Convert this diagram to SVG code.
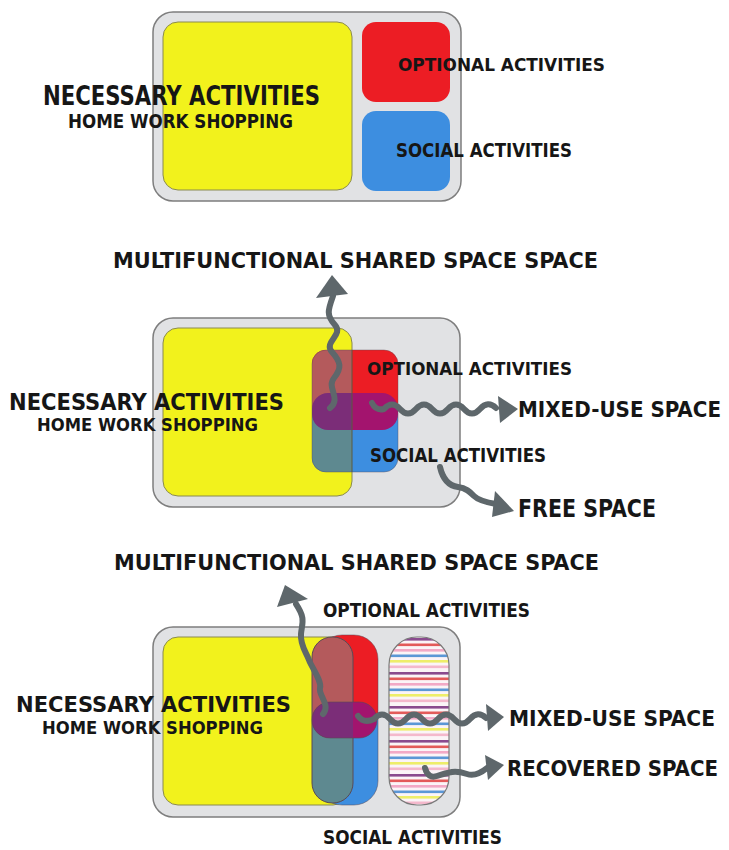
<svg xmlns="http://www.w3.org/2000/svg" width="729" height="850" viewBox="0 0 729 850">
<style>
.t{font-family:"DejaVu Sans Condensed","DejaVu Sans",sans-serif;font-weight:bold;fill:#161616}
.box{fill:#e1e2e4;stroke:#7e7e7e;stroke-width:1.5}
.yel{fill:#f2f21c;stroke:#8a8a50;stroke-width:1}
.red{fill:#ec1d24}
.blu{fill:#3d8ee0}
.mred{fill:#b45a5c}
.mteal{fill:#5e8990}
.mag{fill:#a3146e}
.mpur{fill:#7b2d78}
.edge{fill:none;stroke:#5a4a55;stroke-width:1}
.arr{fill:none;stroke:#5e676b;stroke-width:6;stroke-linecap:round;stroke-linejoin:round}
.head{fill:#5e676b}
</style>
<defs>
<pattern id="stripes" x="0" y="638" width="10" height="34" patternUnits="userSpaceOnUse">
<rect width="10" height="34" fill="#fbf4f7"/>
<rect y="0" width="10" height="2.6" fill="#8a4a8e"/>
<rect y="5.5" width="10" height="2.6" fill="#e35a5a"/>
<rect y="11" width="10" height="2.6" fill="#f2a9c6"/>
<rect y="16.5" width="10" height="2.6" fill="#5b97d6"/>
<rect y="22" width="10" height="2.6" fill="#eeee6a"/>
<rect y="27.5" width="10" height="2.6" fill="#f4b8cc"/>
</pattern>
<clipPath id="c2"><rect x="312" y="350" width="86" height="122" rx="14"/></clipPath>
<clipPath id="c2l"><rect x="300" y="340" width="52" height="140"/></clipPath>
<clipPath id="c3"><rect x="318" y="635" width="60" height="170" rx="24"/></clipPath>
<clipPath id="c3b"><rect x="312" y="702" width="65" height="36" rx="18"/></clipPath>
</defs>

<!-- Panel 1 -->
<g id="p1-container"><rect class="box" x="153" y="12" width="308" height="189" rx="20"/></g>
<g id="p1-necessary">
<rect class="yel" x="163" y="22" width="189" height="168" rx="15"/>
<text class="t" x="43" y="105" font-size="26" textLength="277" lengthAdjust="spacingAndGlyphs">NECESSARY ACTIVITIES</text>
<text class="t" x="68" y="128" font-size="19" textLength="225" lengthAdjust="spacingAndGlyphs">HOME WORK SHOPPING</text>
</g>
<g id="p1-optional">
<rect class="red" x="362" y="22" width="88" height="80" rx="14"/>
<text class="t" x="398" y="71" font-size="18" textLength="207" lengthAdjust="spacingAndGlyphs">OPTIONAL ACTIVITIES</text>
</g>
<g id="p1-social">
<rect class="blu" x="362" y="111" width="88" height="80" rx="14"/>
<text class="t" x="396" y="157" font-size="19" textLength="176" lengthAdjust="spacingAndGlyphs">SOCIAL ACTIVITIES</text>
</g>

<!-- Panel 2 -->
<g id="p2-multifunctional"><text class="t" x="113" y="268" font-size="21" textLength="485" lengthAdjust="spacingAndGlyphs">MULTIFUNCTIONAL SHARED SPACE SPACE</text></g>
<g id="p2-container"><rect class="box" x="153" y="318" width="307" height="189" rx="20"/></g>
<g id="p2-necessary">
<rect class="yel" x="163" y="328" width="189" height="168" rx="15"/>
<text class="t" x="9" y="410" font-size="23" textLength="275" lengthAdjust="spacingAndGlyphs">NECESSARY ACTIVITIES</text>
<text class="t" x="37" y="431" font-size="17" textLength="221" lengthAdjust="spacingAndGlyphs">HOME WORK SHOPPING</text>
</g>
<g id="p2-overlap">
<g clip-path="url(#c2)">
<rect class="red" x="312" y="350" width="86" height="61"/>
<rect class="blu" x="312" y="411" width="86" height="61"/>
<rect class="mag" x="312" y="393" width="86" height="37" rx="16"/>
<g clip-path="url(#c2l)">
<rect class="mred" x="312" y="350" width="86" height="61"/>
<rect class="mteal" x="312" y="411" width="86" height="61"/>
<rect class="mpur" x="312" y="393" width="86" height="37" rx="16"/>
</g>
</g>
<rect class="edge" x="312" y="350" width="86" height="122" rx="14" stroke-opacity="0.4"/>
<line x1="352" y1="350" x2="352" y2="472" stroke="#5a5a40" stroke-width="1"/>
</g>
<g id="p2-optional"><text class="t" x="367" y="375" font-size="18" textLength="205" lengthAdjust="spacingAndGlyphs">OPTIONAL ACTIVITIES</text></g>
<g id="p2-social"><text class="t" x="370" y="462" font-size="20" textLength="176" lengthAdjust="spacingAndGlyphs">SOCIAL ACTIVITIES</text></g>
<g id="p2-mixed"><text class="t" x="518" y="417" font-size="22" textLength="203" lengthAdjust="spacingAndGlyphs">MIXED-USE SPACE</text></g>
<g id="p2-free"><text class="t" x="518" y="517" font-size="24" textLength="138" lengthAdjust="spacingAndGlyphs">FREE SPACE</text></g>

<!-- Panel 3 -->
<g id="p3-multifunctional"><text class="t" x="114" y="570" font-size="21" textLength="485" lengthAdjust="spacingAndGlyphs">MULTIFUNCTIONAL SHARED SPACE SPACE</text></g>
<g id="p3-optional"><text class="t" x="323" y="617" font-size="19" textLength="207" lengthAdjust="spacingAndGlyphs">OPTIONAL ACTIVITIES</text></g>
<g id="p3-container"><rect class="box" x="153" y="627" width="307" height="190" rx="20"/></g>
<g id="p3-necessary">
<rect class="yel" x="163" y="637" width="185" height="168" rx="15"/>
<text class="t" x="16" y="712" font-size="22" textLength="275" lengthAdjust="spacingAndGlyphs">NECESSARY ACTIVITIES</text>
<text class="t" x="42" y="734" font-size="17" textLength="221" lengthAdjust="spacingAndGlyphs">HOME WORK SHOPPING</text>
</g>
<g id="p3-overlap">
<g clip-path="url(#c3)">
<rect class="red" x="318" y="635" width="60" height="85"/>
<rect class="blu" x="318" y="720" width="60" height="85"/>
</g>
<rect class="edge" x="318" y="635" width="60" height="170" rx="24" stroke-opacity="0.5"/>
<path class="mred" d="M312,720 V657 A20,20 0 0 1 332,637 H333 A20,20 0 0 1 353,657 V720 Z"/>
<path class="mteal" d="M312,720 V783 A20,20 0 0 0 332,803 H333 A20,20 0 0 0 353,783 V720 Z"/>
<rect class="edge" x="312" y="637" width="41" height="166" rx="20" stroke="#3f4a50"/>
<g clip-path="url(#c3b)">
<rect class="mag" x="312" y="702" width="65" height="36"/>
<rect class="mpur" x="312" y="702" width="41" height="36"/>
</g>
<rect class="edge" x="312" y="702" width="65" height="36" rx="18" stroke-opacity="0.6"/>
</g>
<g id="p3-recovered-space">
<rect x="389" y="637" width="60" height="168" rx="28" fill="url(#stripes)" stroke="#7a7a7a" stroke-width="1.2"/>
</g>
<g id="p3-mixed"><text class="t" x="509" y="726" font-size="22" textLength="206" lengthAdjust="spacingAndGlyphs">MIXED-USE SPACE</text></g>
<g id="p3-recovered"><text class="t" x="507" y="776" font-size="22" textLength="211" lengthAdjust="spacingAndGlyphs">RECOVERED SPACE</text></g>
<g id="p3-social"><text class="t" x="323" y="844" font-size="19" textLength="179" lengthAdjust="spacingAndGlyphs">SOCIAL ACTIVITIES</text></g>

<!-- Connectors -->
<g id="connectors">
<path class="arr" d="M330,408 C342,398 326,388 334,378 S341,362 332,352 S344,335 335,325 S328,310 333,296"/>
<polygon class="head" points="332,275 316,298 348,294"/>
<path class="arr" d="M372,403 Q376,411 384,409 q8,-9 16,0 t16,0 t16,0 t16,0 t16,0 t16,0 t16,-1"/>
<polygon class="head" points="518,409 498,396 500,423"/>
<path class="arr" d="M440,467 C443,480 450,486 458,487 S470,492 474,496 S484,502 496,504"/>
<polygon class="head" points="514,511 495,491 492,517"/>
<path class="arr" d="M323,714 C331,705 318,695 320,688 S312,668 309,660 S300,645 301,634 S306,619 296,604"/>
<polygon class="head" points="285,585 277,607 308,599"/>
<path class="arr" d="M358,716 Q364,724 374,719 q8,-9 16,0 t16,0 t16,0 t16,0 t16,0 t16,0 t16,-1"/>
<polygon class="head" points="504,717 486,704 488,731"/>
<path class="arr" d="M425,768 Q428,779 437,776 T452,772 T467,774 T487,768"/>
<polygon class="head" points="504,765 485,755 488,780"/>
</g>
</svg>
